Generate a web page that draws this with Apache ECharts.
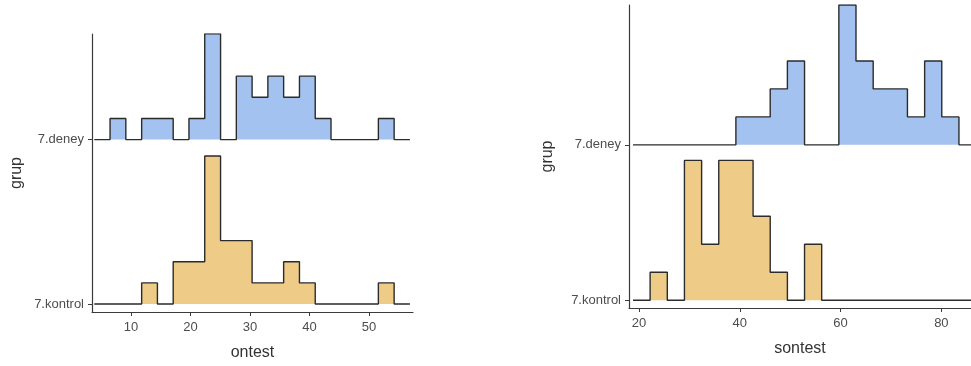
<!DOCTYPE html>
<html>
<head>
<meta charset="utf-8">
<script src="https://cdn.jsdelivr.net/npm/echarts@6/dist/echarts.min.js"></script>
<style>html,body{margin:0;padding:0;background:#fff}#c{width:971px;height:366px}</style>
</head>
<body>
<div id="c"></div>
<script>
// ---- data ----
var groups = ['7.kontrol', '7.deney'];
var ontestEdges = [3.83, 6.48, 9.13, 11.79, 14.44, 17.09, 19.74, 22.39, 25.05, 27.70, 30.35, 33.00, 35.65, 38.31, 40.96, 43.61, 46.26, 48.91, 51.57, 54.22, 56.87];
var ontestDeney   = [0, 1, 0, 1, 1, 0, 1, 5, 0, 3, 2, 3, 2, 3, 1, 0, 0, 0, 1, 0];
var ontestKontrol = [0, 0, 0, 1, 0, 2, 2, 7, 3, 3, 1, 1, 2, 1, 0, 0, 0, 0, 1, 0];
var sontestEdges = [18.81, 22.21, 25.62, 29.02, 32.43, 35.83, 39.23, 42.64, 46.04, 49.45, 52.85, 56.25, 59.66, 63.06, 66.47, 69.87, 73.27, 76.68, 80.08, 83.49, 86.89];
var sontestDeney   = [0, 0, 0, 0, 0, 0, 1, 1, 2, 3, 0, 0, 5, 3, 2, 2, 1, 3, 1, 0];
var sontestKontrol = [0, 1, 0, 5, 2, 5, 5, 3, 1, 0, 2, 0, 0, 0, 0, 0, 0, 0, 0, 0];
var xTicksLeft = [10, 20, 30, 40, 50];
var xTicksRight = [20, 40, 60, 80];

// ---- helpers ----
function stepPoints(edges, counts, base, k) {
  var pts = [];
  for (var i = 0; i < counts.length; i++) {
    var y = base + counts[i] * k;
    pts.push([edges[i], y]);
    pts.push([edges[i + 1], y]);
  }
  return pts;
}
var maxL = Math.max.apply(null, ontestDeney.concat(ontestKontrol));
var maxR = Math.max.apply(null, sontestDeney.concat(sontestKontrol));
var kL = 0.9 / maxL, kR = 0.9 / maxR;

var FONT = 'Liberation Sans, Arial, sans-serif';
var axisCol = '#3a3a3a';
var BLUE = '#a4c2f0', ORANGE = '#efcb88';

function xAxisCfg(idx, min, max, ticks, name) {
  return {
    type: 'value', gridIndex: idx, min: min, max: max,
    splitLine: {show: false},
    axisLine: {show: true, lineStyle: {color: axisCol, width: 1.2}},
    axisTick: {show: true, length: 4, lineStyle: {color: axisCol}, customValues: ticks},
    axisLabel: {color: '#4d4d4d', fontSize: 13, fontFamily: FONT, margin: 9, customValues: ticks},
    name: name, nameLocation: 'middle', nameGap: 33,
    nameTextStyle: {color: '#333', fontSize: 16, fontFamily: FONT}
  };
}
function yAxisCfg(idx, min, max, gap) {
  return {
    type: 'value', gridIndex: idx, min: min, max: max,
    splitLine: {show: false},
    axisLine: {show: true, lineStyle: {color: axisCol, width: 1.2}},
    axisTick: {show: true, length: 4, lineStyle: {color: axisCol}, customValues: [1, 2]},
    axisLabel: {color: '#4d4d4d', fontSize: 13, fontFamily: FONT, margin: 8, customValues: [1, 2],
      formatter: function (v) { return groups[Math.round(v) - 1]; }},
    name: 'grup', nameLocation: 'middle', nameGap: gap, nameRotate: 90,
    nameTextStyle: {color: '#333', fontSize: 16, fontFamily: FONT}
  };
}
function ridge(xi, edges, counts, base, k, col) {
  return {
    type: 'line', xAxisIndex: xi, yAxisIndex: xi,
    data: stepPoints(edges, counts, base, k),
    symbol: 'none', silent: true, clip: true,
    lineStyle: {color: '#2b2b2b', width: 1.4},
    areaStyle: {color: col, opacity: 1, origin: base}
  };
}

var chart = echarts.init(document.getElementById('c'), null, {renderer: 'canvas'});
chart.setOption({
  animation: false,
  backgroundColor: '#ffffff',
  grid: [
    {left: 92, top: 34, width: 321, height: 279, containLabel: false},
    {left: 629, top: 5, width: 342, height: 303, containLabel: false}
  ],
  xAxis: [
    xAxisCfg(0, 3.445, 57.39, xTicksLeft, 'ontest'),
    xAxisCfg(1, 18.02, 85.88, xTicksRight, 'sontest')
  ],
  yAxis: [
    yAxisCfg(0, 0.9515, 2.642, 67),
    yAxisCfg(1, 0.95, 2.9, 73)
  ],
  series: [
    ridge(0, ontestEdges, ontestKontrol, 1, kL, ORANGE),
    ridge(0, ontestEdges, ontestDeney, 2, kL, BLUE),
    ridge(1, sontestEdges, sontestKontrol, 1, kR, ORANGE),
    ridge(1, sontestEdges, sontestDeney, 2, kR, BLUE)
  ]
});
</script>
</body>
</html>
